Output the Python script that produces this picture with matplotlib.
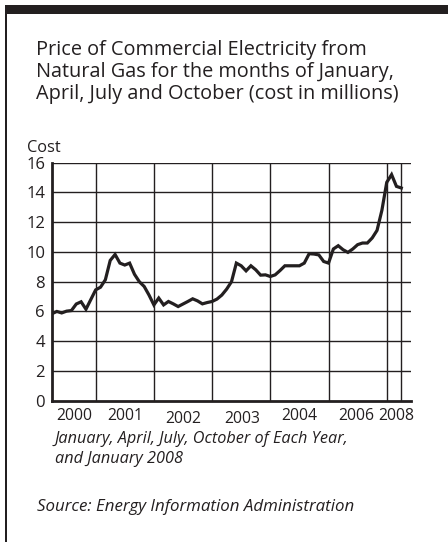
import matplotlib
matplotlib.use("Agg")
import matplotlib.pyplot as plt
from matplotlib.patches import Rectangle

plt.rcParams['font.family'] = ['Open Sans', 'DejaVu Sans']

# monthly index from the first point of the chart
months = list(range(73))
cost = [5.85, 6.00, 5.90, 6.02, 6.06, 6.50, 6.65, 6.15, 6.80, 7.45,
        7.63, 8.13, 9.43, 9.83, 9.25, 9.12, 9.25, 8.50, 8.00, 7.68,
        7.10, 6.44, 6.90, 6.44, 6.67, 6.51, 6.33, 6.50, 6.67, 6.85,
        6.71, 6.51, 6.60, 6.67, 6.83, 7.10, 7.50, 8.00, 9.25, 9.07,
        8.73, 9.07, 8.80, 8.44, 8.46, 8.35, 8.46, 8.75, 9.07, 9.07,
        9.07, 9.07, 9.25, 9.88, 9.86, 9.80, 9.36, 9.25, 10.20, 10.42,
        10.15, 9.97, 10.20, 10.49, 10.60, 10.60, 10.94, 11.45, 12.80, 14.68,
        15.20, 14.41, 14.30]

year_labels = ['2000', '2001', '2002', '2003', '2004', '2006', '2008']
label_pos = [4.5, 15.0, 27.0, 39.1, 50.9, 62.7, 71.0]
label_drop = [5, 5, 7.5, 7.5, 5, 5, 5]   # some labels sit a little lower
grid_pos = [9, 21, 33, 45, 57, 69, 72]
y_ticks = [0, 2, 4, 6, 8, 10, 12, 14, 16]

W, H = 448, 542
fig = plt.figure(figsize=(W / 100, H / 100), dpi=100)

# frame: heavy bar on top, thin rule on the left
fig.patches.append(Rectangle((5 / W, 1 - 14 / H), 1, 9 / H, transform=fig.transFigure,
                             facecolor='#231f20', edgecolor='none'))
fig.patches.append(Rectangle((5 / W, 0), 2 / W, 1 - 5 / H, transform=fig.transFigure,
                             facecolor='#231f20', edgecolor='none'))

title_lines = ['Price of Commercial Electricity from',
               'Natural Gas for the months of January,',
               'April, July and October (cost in millions)']
for i, line in enumerate(title_lines):
    fig.text(36 / W, 1 - (54.5 + 22.5 * i) / H, line, fontsize=14.3,
             color='#231f20', va='baseline', ha='left')

ax = fig.add_axes([52 / W, 1 - 400.7 / H, (411 - 52) / W, (400.7 - 162.7) / H])
ax.plot(months, cost, color='#231f20', lw=2.3, solid_joinstyle='miter', zorder=3)

ax.set_xlim(0, 74)
ax.set_ylim(0, 16)
ax.set_yticks(y_ticks)
ax.set_yticklabels([str(v) for v in y_ticks], fontsize=12, color='#231f20')
ax.set_xticks([])
for v in y_ticks[1:]:
    ax.axhline(v, color='#231f20', lw=1.0, zorder=1)
for g in grid_pos:
    ax.axvline(g, color='#231f20', lw=1.0, zorder=1)

ax.tick_params(axis='y', length=0, pad=5)
for s in ['top', 'right']:
    ax.spines[s].set_visible(False)
for s in ['left', 'bottom']:
    ax.spines[s].set_linewidth(2.0)
    ax.spines[s].set_color('#231f20')

for lab, p, d in zip(year_labels, label_pos, label_drop):
    ax.annotate(lab, xy=(p, 0), xycoords=('data', 'axes fraction'),
                xytext=(0, -d), textcoords='offset points',
                ha='center', va='top', fontsize=11.3, color='#231f20')

fig.text(27 / W, 1 - 152 / H, 'Cost', fontsize=11.8, color='#231f20',
         va='baseline', ha='left')

fig.text(55 / W, 1 - 439 / H, 'January, April, July, October of Each Year,',
         fontsize=11.7, style='italic', color='#231f20', va='center', ha='left')
fig.text(55 / W, 1 - 459 / H, 'and January 2008',
         fontsize=11.7, style='italic', color='#231f20', va='center', ha='left')
fig.text(36.5 / W, 1 - 507 / H, 'Source: Energy Information Administration',
         fontsize=12.2, style='italic', color='#231f20', va='center', ha='left')

fig.savefig('out.png', dpi=100)
